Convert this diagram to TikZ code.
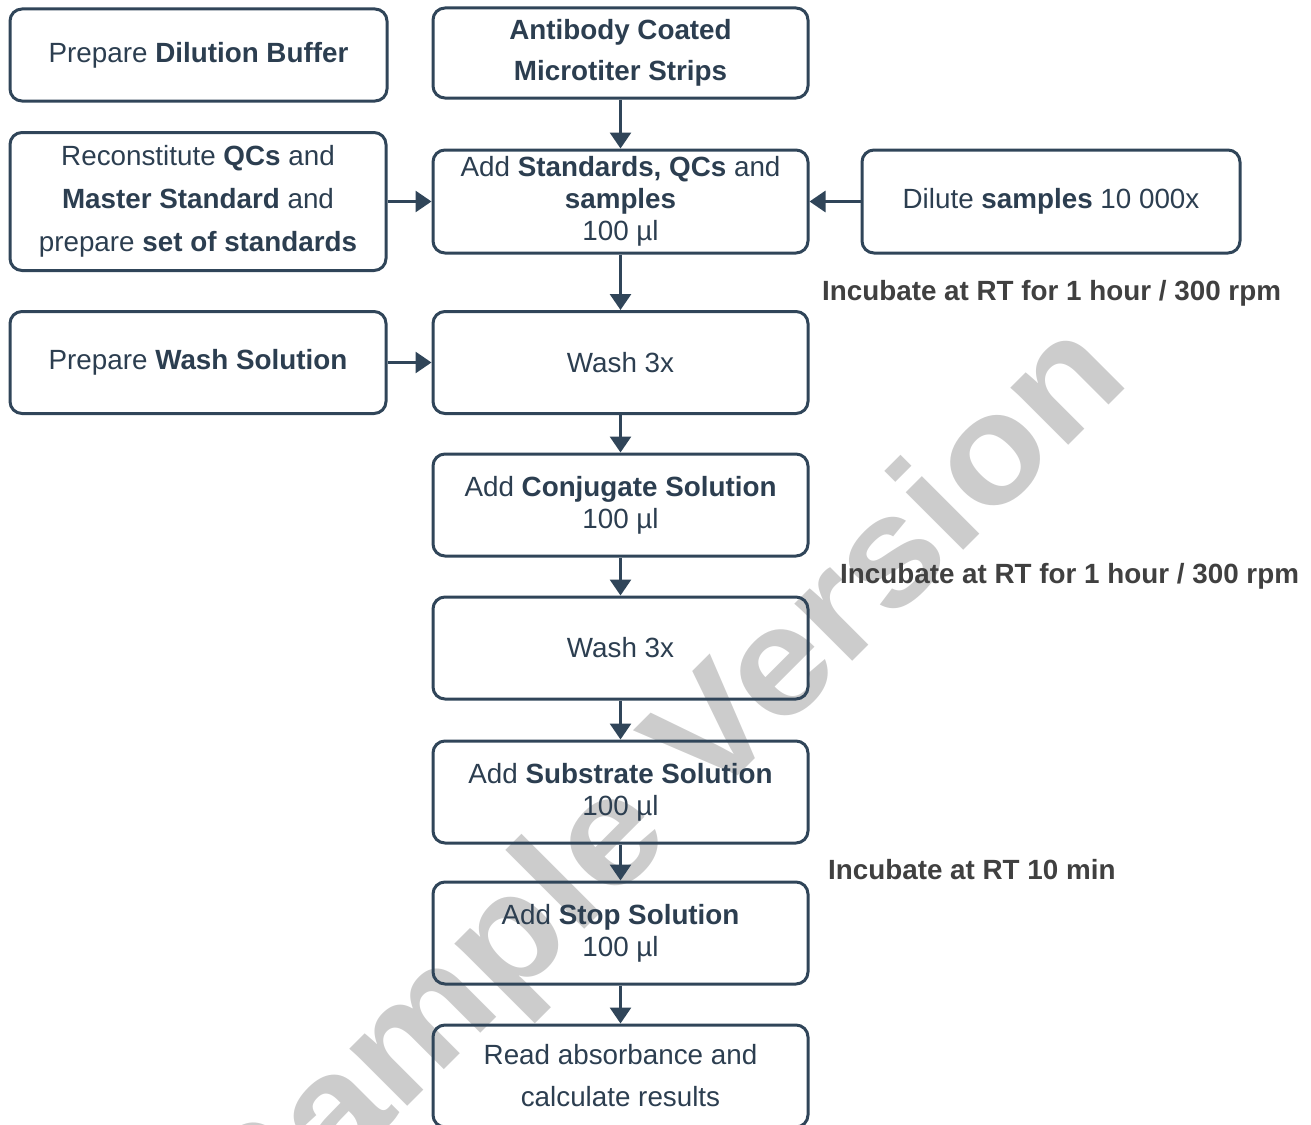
\documentclass[tikz,border=0pt]{standalone}
\usepackage{fontspec}
\setmainfont{Liberation Sans}
\usetikzlibrary{arrows.meta}

\definecolor{elisacolor0001}{RGB}{48,69,89}
\definecolor{elisacolor0002}{RGB}{44,62,80}
\definecolor{elisacolor0003}{RGB}{64,64,64}
\definecolor{elisacolor0004}{RGB}{204,204,204}

\begin{document}
\begin{tikzpicture}[yscale=-1
                ,pstyle1/.style={draw=elisacolor0001,line width=3pt,rounded corners=12pt,minimum width=375pt,minimum height=102pt,text=elisacolor0002,align=center,inner sep=0pt,font=\fontsize{27.8pt}{32pt}\selectfont}
                ,pstyle2/.style={draw=elisacolor0001,line width=3pt,-{Triangle[width=21pt,length=16pt]}}
                ,pstyle3/.style={anchor=west,inner sep=0pt,text=elisacolor0003,font=\fontsize{27.8pt}{32pt}\selectfont\bfseries}
                ,pstyle4/.style={anchor=base west,inner sep=0pt,rotate=45,text=elisacolor0004,font=\fontsize{154pt}{160pt}\selectfont\bfseries\addfontfeatures{FakeStretch=1.08}}
            ]
            \useasboundingbox (0pt,0pt) rectangle (1311pt,1124pt);
            \node[pstyle4] (wmark) at (256pt,1258pt) {Sample Version};
            \node[pstyle1,minimum width=377pt,minimum height=92pt] (prepbuf) at (198.5pt,55pt) {Prepare \textbf{Dilution Buffer}};
            \node[pstyle1,minimum height=90pt] (strips) at (620.5pt,53pt) {\textbf{Antibody Coated}\\[9pt]\textbf{Microtiter Strips}};
            \node[pstyle1,minimum width=376pt,minimum height=138pt] (recon) at (198pt,201.5pt) {Reconstitute \textbf{QCs} and\\[11pt]\textbf{Master Standard} and\\[11pt]prepare \textbf{set of standards}};
            \node[pstyle1,minimum height=103pt] (addstd) at (620.5pt,201.5pt) {Add \textbf{Standards, QCs} and\\\textbf{samples}\\100 µl};
            \node[pstyle1,minimum width=378pt,minimum height=103pt] (dilute) at (1051pt,201.5pt) {Dilute \textbf{samples} 10 000x};
            \node[pstyle1,minimum width=376pt] (prepwash) at (198pt,362.5pt) {Prepare \textbf{Wash Solution}};
            \node[pstyle1] (wash1) at (620.5pt,362.5pt) {Wash 3x};
            \node[pstyle1] (addconj) at (620.5pt,505pt) {Add \textbf{Conjugate Solution}\\100 µl};
            \node[pstyle1] (wash2) at (620.5pt,648pt) {Wash 3x};
            \node[pstyle1] (addsub) at (620.5pt,792pt) {Add \textbf{Substrate Solution}\\100 µl};
            \node[pstyle1] (addstop) at (620.5pt,933pt) {Add \textbf{Stop Solution}\\100 µl};
            \node[pstyle1] (readabs) at (620.5pt,1076pt) {Read absorbance and\\[10pt]calculate results};
            \node[pstyle3] (inc1) at (822pt,293pt) {Incubate at RT for 1 hour / 300 rpm};
            \node[pstyle3] (inc2) at (840pt,576pt) {Incubate at RT for 1 hour / 300 rpm};
            \node[pstyle3] (inc3) at (828pt,870pt) {Incubate at RT 10 min};
            \draw[pstyle2] (strips) -- (addstd);
            \draw[pstyle2] (recon) -- (addstd);
            \draw[pstyle2] (dilute) -- (addstd);
            \draw[pstyle2] (addstd) -- (wash1);
            \draw[pstyle2] (prepwash) -- (wash1);
            \draw[pstyle2] (wash1) -- (addconj);
            \draw[pstyle2] (addconj) -- (wash2);
            \draw[pstyle2] (wash2) -- (addsub);
            \draw[pstyle2] (addsub) -- (addstop);
            \draw[pstyle2] (addstop) -- (readabs);
        \end{tikzpicture}
\end{document}
